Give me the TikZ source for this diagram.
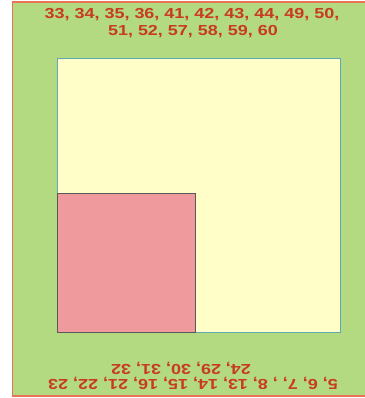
\documentclass[tikz,border=0pt]{standalone}
\usepackage{fontspec}
\setmainfont{Liberation Sans}
\definecolor{bggreen}{HTML}{B3DA80}
\definecolor{edgered}{HTML}{E8735A}
\definecolor{boxyellow}{HTML}{FFFDC8}
\definecolor{boxteal}{HTML}{5FA8B4}
\definecolor{boxpink}{HTML}{EF9A9C}
\definecolor{txtred}{HTML}{C83A22}
\begin{document}
\begin{tikzpicture}[x=1pt,y=-1pt,
  lbl/.style={text=txtred,font=\bfseries\fontsize{14.5}{17}\selectfont,inner sep=0pt,xscale=1.24}]
\useasboundingbox (0,0) rectangle (364,398);
\path[fill=bggreen] (12.5,2) rectangle (366,396);
\draw[edgered,line width=1.2pt] (366,2) -- (12.5,2) -- (12.5,396) -- (366,396);
\node[draw=boxteal,fill=boxyellow,line width=1.2pt,minimum width=283pt,minimum height=274pt,anchor=north west,inner sep=0pt] (big) at (57,58) {};
\node[draw=black!65,fill=boxpink,line width=0.8pt,minimum width=138pt,minimum height=139pt,anchor=south west,inner sep=0pt] (small) at (big.south west) {};
\node[lbl] (top1) at (192,14.5) {33, 34, 35, 36, 41, 42, 43, 44, 49, 50,};
\node[lbl] (top2) at (193,32) {51, 52, 57, 58, 59, 60};
\node[lbl,rotate=180] (bot1) at (193,383) {5, 6, 7, , 8, 13, 14, 15, 16, 21, 22, 23};
\node[lbl,rotate=180] (bot2) at (181,368.5) {24, 29, 30, 31, 32};
\end{tikzpicture}
\end{document}
